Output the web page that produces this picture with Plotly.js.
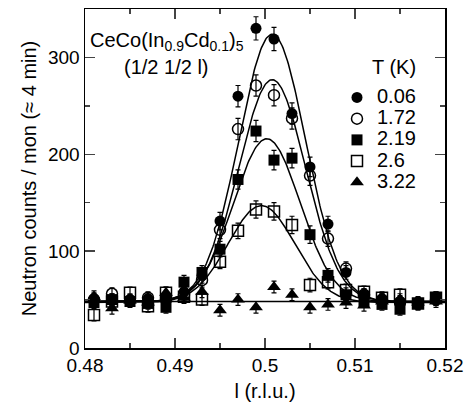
<!DOCTYPE html>
<html>
<head>
<meta charset="utf-8">
<script src="https://cdn.plot.ly/plotly-3.0.1.min.js"></script>
<style>html,body{margin:0;padding:0;background:#fff;}#chart{width:471px;height:407px;}</style>
</head>
<body>
<div id="chart"></div>
<script>
// l positions (r.l.u.)
const lValues = [0.481,0.483,0.485,0.487,0.489,0.491,0.493,0.495,0.497,0.499,0.501,0.503,0.505,0.507,0.509,0.511,0.513,0.515,0.517,0.519];

// Temperatures (legend labels)
const temps = ["0.06","1.72","2.19","2.6","3.22"];

// Counts per series
const counts006 = [51,50,50,51,52,58,75,131,260,330,319,242,187,128,78,55,50,48,45,50];
const counts172 = [50,56,49,52,50,55,70,122,226,271,261,237,178,113,82,55,50,47,46,50];
const counts219 = [47,50,48,46,42,68,78,102,174,224,194,196,117,75,55,48,45,40,46,52];
const counts260 = [34,48,57,43,57,53,50,89,121,143,141,127,65,68,60,58,52,55,46,52];
const counts322 = [53,41,49,47,57,52,58,39,50,42,63,55,42,45,47,44,48,50,47,48];

// Error bars
const err006 = [6,6,6,6,6,7,8,9,11,12,12,11,10,8,7,6,6,6,6,6];
const err172 = [6,6,6,6,6,7,8,9,11,11,11,11,10,8,7,6,6,6,6,6];
const err219 = [6,6,6,6,6,7,7,8,10,11,10,10,9,7,7,6,6,6,6,6];
const err260 = [6,6,6,6,6,6,6,7,8,9,9,9,7,7,6,6,6,6,6,6];
const err322 = [6,6,6,6,6,6,6,6,6,6,6,6,6,6,6,6,6,6,6,6];

// Gaussian fit parameters per temperature
const fitCenter = [0.5008,0.5008,0.5002,0.4996,0.5];
const fitAmp = [276,229,168,100,0];
const fitSigma = [0.0037,0.0037,0.0037,0.0037,0.0037];
const fitBase = [48,48,48,47,48];

const seriesCounts = [counts006,counts172,counts219,counts260,counts322];
const seriesErr = [err006,err172,err219,err260,err322];
const symbols = ["circle","circle-open","square","square-open","triangle-up"];

const font = "Liberation Sans, Arial, sans-serif";
const traces = [];

// fit curves
for (let i = 0; i < temps.length; i++) {
  const xs = [], ys = [];
  for (let k = 0; k <= 400; k++) {
    const x = 0.48 + k * 0.0001;
    xs.push(x);
    ys.push(fitBase[i] + fitAmp[i] * Math.exp(-Math.pow(x - fitCenter[i], 2) / (2 * fitSigma[i] * fitSigma[i])));
  }
  traces.push({x: xs, y: ys, mode: "lines", line: {color: "black", width: 1.5}, showlegend: false, hoverinfo: "skip"});
}

// data
for (let i = 0; i < temps.length; i++) {
  const open = symbols[i].indexOf("open") >= 0;
  traces.push({
    x: lValues, y: seriesCounts[i],
    name: '<span style="font-size:20px">' + temps[i] + '</span>',
    mode: "markers",
    marker: {symbol: symbols[i], size: symbols[i].startsWith("triangle") ? 12 : 11, color: "black",
             line: {color: "black", width: open ? 1.5 : 0}},
    error_y: {type: "data", array: seriesErr[i], visible: true, color: "black", thickness: 1.2, width: 2.5}
  });
}

const layout = {
  width: 471, height: 407,
  margin: {l: 85, r: 26, t: 9, b: 59},
  paper_bgcolor: "white", plot_bgcolor: "white",
  font: {family: font, size: 20, color: "black"},
  showlegend: true,
  legend: {x: 0.7, y: 0.785, xanchor: "left", yanchor: "top", bgcolor: "rgba(0,0,0,0)",
           font: {family: font, size: 14}, tracegroupgap: 0},
  xaxis: {
    range: [0.48, 0.52], dtick: 0.01, tick0: 0.48, ticks: "inside", ticklen: 10, tickwidth: 1.5,
    showline: true, linewidth: 1.5, linecolor: "black", mirror: "ticks", showgrid: false, zeroline: false,
    tickfont: {family: font, size: 19},
    minor: {dtick: 0.005, ticks: "inside", ticklen: 5, tickwidth: 1.5, showgrid: false},
    title: {text: "l (r.l.u.)", font: {family: font, size: 20}, standoff: 8}
  },
  yaxis: {
    range: [0, 350], dtick: 100, ticks: "inside", ticklen: 10, tickwidth: 1.5,
    showline: true, linewidth: 1.5, linecolor: "black", mirror: "ticks", showgrid: false, zeroline: false,
    tickfont: {family: font, size: 19},
    minor: {dtick: 50, ticks: "inside", ticklen: 5, tickwidth: 1.5, showgrid: false},
    title: {text: "Neutron counts / mon (≈ 4 min)", font: {family: font, size: 20}, standoff: 6}
  },
  annotations: [
    {xref: "paper", yref: "paper", x: 0.228, y: 0.903, xanchor: "center", yanchor: "middle", showarrow: false,
     text: "CeCo(In<sub>0.9</sub>Cd<sub>0.1</sub>)<sub>5</sub>", font: {family: font, size: 20}},
    {xref: "paper", yref: "paper", x: 0.225, y: 0.829, xanchor: "center", yanchor: "middle", showarrow: false,
     text: "(1/2 1/2 l)", font: {family: font, size: 20}},
    {xref: "paper", yref: "paper", x: 0.858, y: 0.829, xanchor: "center", yanchor: "middle", showarrow: false,
     text: "T (K)", font: {family: font, size: 20}}
  ]
};

Plotly.newPlot("chart", traces, layout, {displayModeBar: false, staticPlot: true});
</script>
</body>
</html>
